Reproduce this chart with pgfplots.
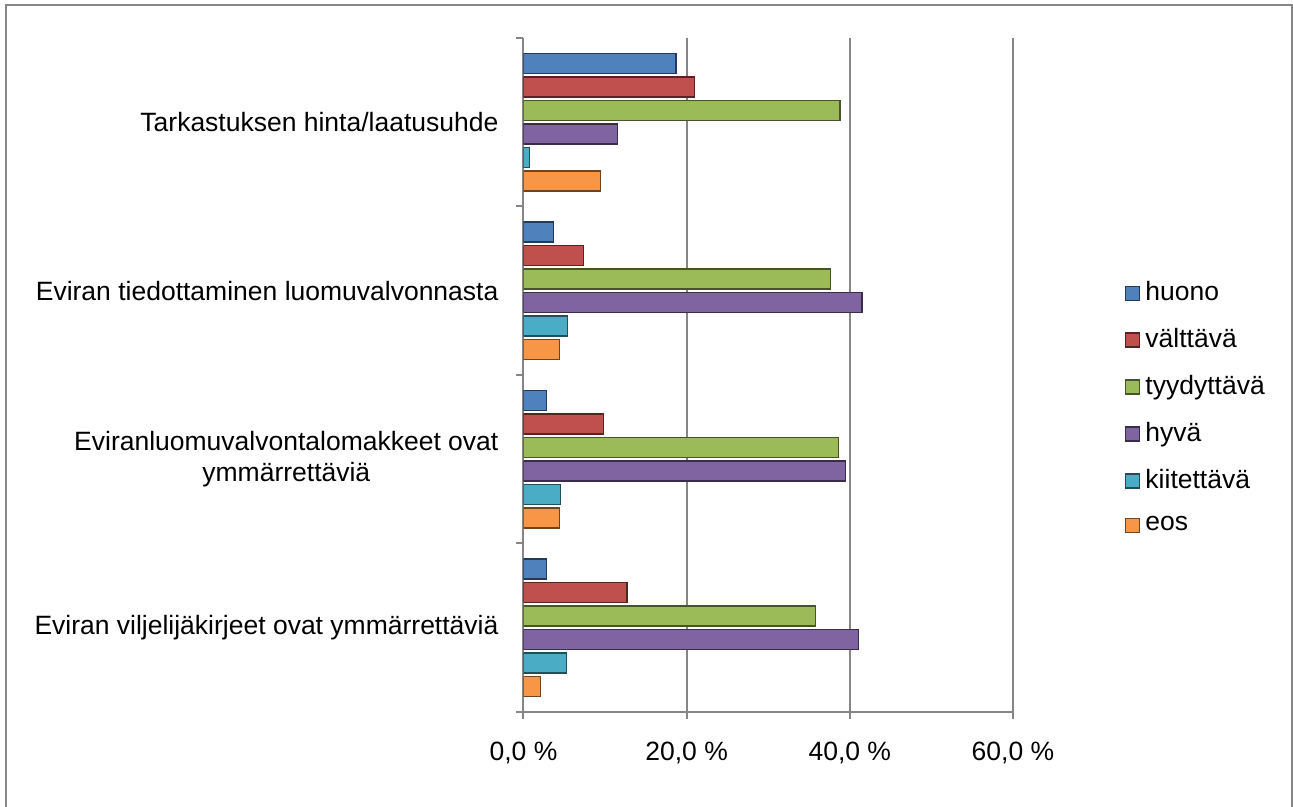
\documentclass[border=0pt]{standalone}
\usepackage{pgfplots}
\pgfplotsset{compat=1.18}
\usepackage{fontspec}
\setmainfont{Liberation Sans}
\definecolor{cblue}{HTML}{4F81BD}
\definecolor{cred}{HTML}{C0504D}
\definecolor{cgreen}{HTML}{9BBB59}
\definecolor{cpurple}{HTML}{8064A2}
\definecolor{caqua}{HTML}{4BACC6}
\definecolor{corange}{HTML}{F79646}
\definecolor{gridgray}{HTML}{868686}
\tikzset{bev/.style={draw=#1!45!black, line width=0.5pt, fill=#1}}
\begin{document}
\fontsize{10.6}{12.7}\selectfont
\begin{tikzpicture}
\useasboundingbox (0,0) rectangle (517.2pt,322.8pt);
\draw[line width=1pt, color=gridgray] (2.4pt,-5pt) rectangle (516.8pt,320.8pt);
\begin{axis}[
  at={(209.4pt,38pt)}, anchor=south west,
  scale only axis, width=195.8pt, height=269.6pt,
  xbar=1.4pt, bar width=8pt,
  xmin=0, xmax=60, ymin=-0.5, ymax=3.5,
  y dir=reverse,
  axis x line*=bottom, axis y line*=left,
  axis line style={gridgray, line width=0.8pt},
  xtick={0,20,40,60},
  xticklabels={{0,0 \%},{20,0 \%},{40,0 \%},{60,0 \%}},
  xmajorgrids, grid style={gridgray, line width=0.8pt},
  ytick={0,1,2,3},
  yticklabels={{Tarkastuksen hinta/laatusuhde},{Eviran tiedottaminen luomuvalvonnasta},{Eviranluomuvalvontalomakkeet ovat\\ymmärrettäviä},{Eviran viljelijäkirjeet ovat ymmärrettäviä}},
  yticklabel style={align=center, xshift=-3.5pt},
  xticklabel style={yshift=-5.6pt},
  minor ytick={-0.5,0.5,1.5,2.5,3.5},
  tick align=outside, major tick length=2.8pt, minor tick length=2.8pt,
  major y tick style={draw=none},
  tick style={gridgray, line width=0.8pt},
  every tick label/.append style={font=\fontsize{10.6}{12.7}\selectfont},
  legend cell align=left,
  reverse legend,
  legend style={draw=none, fill=none, at={(1.213,0.451)}, anchor=west, row sep=5.5pt,
    font=\fontsize{10.6}{12.7}\selectfont},
  legend image code/.code={\path[#1] (0pt,-2.8pt) rectangle (5.6pt,2.8pt);},
]
\addplot[bev=corange] coordinates {(9.4,0) (4.4,1) (4.4,2) (2.1,3)};
\addplot[bev=caqua] coordinates {(0.7,0) (5.4,1) (4.5,2) (5.3,3)};
\addplot[bev=cpurple] coordinates {(11.5,0) (41.5,1) (39.5,2) (41.1,3)};
\addplot[bev=cgreen] coordinates {(38.8,0) (37.6,1) (38.6,2) (35.8,3)};
\addplot[bev=cred] coordinates {(21.0,0) (7.4,1) (9.8,2) (12.7,3)};
\addplot[bev=cblue] coordinates {(18.7,0) (3.7,1) (2.8,2) (2.8,3)};
\legend{eos,kiitettävä,hyvä,tyydyttävä,välttävä,huono}
\end{axis}
\end{tikzpicture}
\end{document}
